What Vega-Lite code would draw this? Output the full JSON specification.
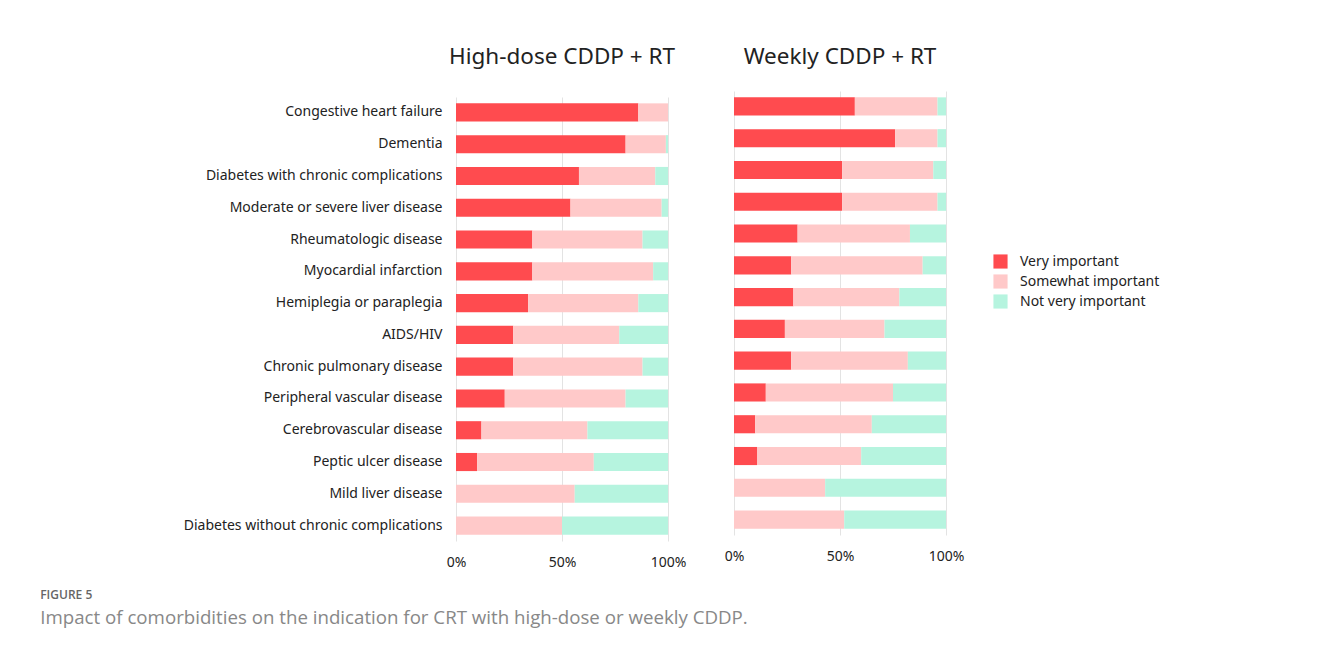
{
  "$schema": "https://vega.github.io/schema/vega-lite/v6.json",
  "background": "white",
  "padding": {"left": 40, "top": 45, "right": 10, "bottom": 10},
  "spacing": 38,
  "center": true,
  "title": {
    "text": "FIGURE 5",
    "subtitle": "Impact of comorbidities on the indication for CRT with high-dose or weekly CDDP.",
    "orient": "bottom",
    "anchor": "start",
    "frame": "bounds",
    "dx": -143,
    "offset": 15,
    "font": "Open Sans",
    "fontSize": 12,
    "fontWeight": 600,
    "color": "#666666",
    "subtitleFont": "Open Sans",
    "subtitleFontSize": 18.7,
    "subtitleColor": "#888888",
    "subtitlePadding": 7
  },
  "datasets": {
    "survey": [
      {"regimen": "High", "condition": "Congestive heart failure", "Very important": 86, "Somewhat important": 14, "Not very important": 0},
      {"regimen": "High", "condition": "Dementia", "Very important": 80, "Somewhat important": 19, "Not very important": 1},
      {"regimen": "High", "condition": "Diabetes with chronic complications", "Very important": 58, "Somewhat important": 36, "Not very important": 6},
      {"regimen": "High", "condition": "Moderate or severe liver disease", "Very important": 54, "Somewhat important": 43, "Not very important": 3},
      {"regimen": "High", "condition": "Rheumatologic disease", "Very important": 36, "Somewhat important": 52, "Not very important": 12},
      {"regimen": "High", "condition": "Myocardial infarction", "Very important": 36, "Somewhat important": 57, "Not very important": 7},
      {"regimen": "High", "condition": "Hemiplegia or paraplegia", "Very important": 34, "Somewhat important": 52, "Not very important": 14},
      {"regimen": "High", "condition": "AIDS/HIV", "Very important": 27, "Somewhat important": 50, "Not very important": 23},
      {"regimen": "High", "condition": "Chronic pulmonary disease", "Very important": 27, "Somewhat important": 61, "Not very important": 12},
      {"regimen": "High", "condition": "Peripheral vascular disease", "Very important": 23, "Somewhat important": 57, "Not very important": 20},
      {"regimen": "High", "condition": "Cerebrovascular disease", "Very important": 12, "Somewhat important": 50, "Not very important": 38},
      {"regimen": "High", "condition": "Peptic ulcer disease", "Very important": 10, "Somewhat important": 55, "Not very important": 35},
      {"regimen": "High", "condition": "Mild liver disease", "Very important": 0, "Somewhat important": 56, "Not very important": 44},
      {"regimen": "High", "condition": "Diabetes without chronic complications", "Very important": 0, "Somewhat important": 50, "Not very important": 50},
      {"regimen": "Weekly", "condition": "Congestive heart failure", "Very important": 57, "Somewhat important": 39, "Not very important": 4},
      {"regimen": "Weekly", "condition": "Dementia", "Very important": 76, "Somewhat important": 20, "Not very important": 4},
      {"regimen": "Weekly", "condition": "Diabetes with chronic complications", "Very important": 51, "Somewhat important": 43, "Not very important": 6},
      {"regimen": "Weekly", "condition": "Moderate or severe liver disease", "Very important": 51, "Somewhat important": 45, "Not very important": 4},
      {"regimen": "Weekly", "condition": "Rheumatologic disease", "Very important": 30, "Somewhat important": 53, "Not very important": 17},
      {"regimen": "Weekly", "condition": "Myocardial infarction", "Very important": 27, "Somewhat important": 62, "Not very important": 11},
      {"regimen": "Weekly", "condition": "Hemiplegia or paraplegia", "Very important": 28, "Somewhat important": 50, "Not very important": 22},
      {"regimen": "Weekly", "condition": "AIDS/HIV", "Very important": 24, "Somewhat important": 47, "Not very important": 29},
      {"regimen": "Weekly", "condition": "Chronic pulmonary disease", "Very important": 27, "Somewhat important": 55, "Not very important": 18},
      {"regimen": "Weekly", "condition": "Peripheral vascular disease", "Very important": 15, "Somewhat important": 60, "Not very important": 25},
      {"regimen": "Weekly", "condition": "Cerebrovascular disease", "Very important": 10, "Somewhat important": 55, "Not very important": 35},
      {"regimen": "Weekly", "condition": "Peptic ulcer disease", "Very important": 11, "Somewhat important": 49, "Not very important": 40},
      {"regimen": "Weekly", "condition": "Mild liver disease", "Very important": 0, "Somewhat important": 43, "Not very important": 57},
      {"regimen": "Weekly", "condition": "Diabetes without chronic complications", "Very important": 0, "Somewhat important": 52, "Not very important": 48}
    ]
  },
  "config": {
    "font": "Noto Sans",
    "view": {"stroke": null},
    "axis": {
      "labelFont": "Noto Sans",
      "labelFontSize": 14,
      "labelColor": "#222222",
      "labelLimit": 0,
      "labelFlush": false,
      "gridColor": "#e3e3e3",
      "domain": false,
      "ticks": false
    },
    "title": {"font": "Noto Sans", "fontSize": 22.5, "fontWeight": "normal", "color": "#222222"}
  },
  "hconcat": [
    {
      "width": 212,
      "height": 444,
      "title": {"text": "High-dose CDDP + RT", "offset": 29},
      "data": {"name": "survey"},
      "transform": [
        {"filter": "datum.regimen === 'High'"},
        {"fold": ["Very important", "Somewhat important", "Not very important"], "as": ["response", "value"]}
      ],
      "mark": {"type": "bar"},
      "encoding": {
        "y": {
          "field": "condition", "type": "nominal", "title": null,
          "sort": ["Congestive heart failure", "Dementia", "Diabetes with chronic complications", "Moderate or severe liver disease", "Rheumatologic disease", "Myocardial infarction", "Hemiplegia or paraplegia", "AIDS/HIV", "Chronic pulmonary disease", "Peripheral vascular disease", "Cerebrovascular disease", "Peptic ulcer disease", "Mild liver disease", "Diabetes without chronic complications"],
          "scale": {"paddingInner": 0.43, "paddingOuter": 0.2},
          "axis": {"grid": false, "labelPadding": 14}
        },
        "x": {
          "field": "value", "type": "quantitative", "stack": "normalize", "title": null,
          "axis": {"values": [0, 0.5, 1], "format": "%", "labelPadding": 14, "grid": true}
        },
        "order": {"field": "response", "sort": "descending"},
        "color": {
          "field": "response", "type": "nominal", "title": null,
          "sort": ["Very important", "Somewhat important", "Not very important"],
          "scale": {"domain": ["Very important", "Somewhat important", "Not very important"], "range": ["#ff4b4f", "#ffc9c9", "#b6f4df"]},
          "legend": {
            "orient": "none", "legendX": 537, "legendY": 163,
            "symbolType": "square", "symbolSize": 200, "symbolStrokeWidth": 0,
            "labelFontSize": 14, "labelColor": "#222222", "labelFont": "Noto Sans",
            "rowPadding": 5, "labelOffset": 12
          }
        }
      }
    },
    {
      "width": 212,
      "height": 444,
      "title": {"text": "Weekly CDDP + RT", "offset": 23},
      "data": {"name": "survey"},
      "transform": [
        {"filter": "datum.regimen === 'Weekly'"},
        {"fold": ["Very important", "Somewhat important", "Not very important"], "as": ["response", "value"]}
      ],
      "mark": {"type": "bar"},
      "encoding": {
        "y": {
          "field": "condition", "type": "nominal", "title": null,
          "sort": ["Congestive heart failure", "Dementia", "Diabetes with chronic complications", "Moderate or severe liver disease", "Rheumatologic disease", "Myocardial infarction", "Hemiplegia or paraplegia", "AIDS/HIV", "Chronic pulmonary disease", "Peripheral vascular disease", "Cerebrovascular disease", "Peptic ulcer disease", "Mild liver disease", "Diabetes without chronic complications"],
          "scale": {"paddingInner": 0.43, "paddingOuter": 0.2},
          "axis": null
        },
        "x": {
          "field": "value", "type": "quantitative", "stack": "normalize", "title": " ",
          "axis": {"values": [0, 0.5, 1], "format": "%", "labelPadding": 14, "grid": true, "titleFontSize": 2, "titlePadding": 10}
        },
        "order": {"field": "response", "sort": "descending"},
        "color": {
          "field": "response", "type": "nominal", "title": null,
          "sort": ["Very important", "Somewhat important", "Not very important"],
          "scale": {"domain": ["Very important", "Somewhat important", "Not very important"], "range": ["#ff4b4f", "#ffc9c9", "#b6f4df"]}
        }
      }
    }
  ],
  "resolve": {"scale": {"color": "shared"}}
}
